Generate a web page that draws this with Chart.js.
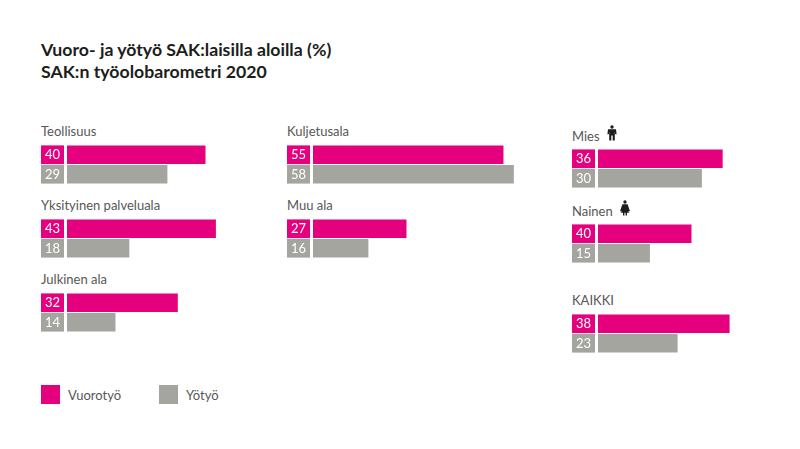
<!DOCTYPE html>
<html lang="fi">
<head>
<meta charset="utf-8">
<title>Vuoro- ja yötyö</title>
<script src="https://cdn.jsdelivr.net/npm/chart.js@4"></script>
<style>
  html, body { margin: 0; padding: 0; background: #fff; }
  #page { position: relative; width: 800px; height: 449px; overflow: hidden; font-family: Lato, sans-serif; }
  #page div, #page canvas, #page svg { position: absolute; }
  .title { left: 41px; font-size: 17.7px; font-weight: 700; color: #1d1d1b; white-space: nowrap; line-height: 24px; }
  .label { font-size: 13px; color: #575756; white-space: nowrap; line-height: 16px; }
  .swatch { width: 19px; height: 19px; }
</style>
</head>
<body>
<div id="page"></div>
<script>
const categories = ["Teollisuus", "Yksityinen palveluala", "Julkinen ala", "Kuljetusala", "Muu ala", "Mies", "Nainen", "KAIKKI"];
const vuorotyo = [40, 43, 32, 55, 27, 36, 27, 38]; // Nainen: palkki piirretty n. 27 pituiseksi vaikka luku on 40
const yotyo = [29, 18, 14, 58, 16, 30, 15, 23];
const vuorotyoLabels = ["40", "43", "32", "55", "27", "36", "40", "38"];
const yotyoLabels = ["29", "18", "14", "58", "16", "30", "15", "23"];
const seriesNames = ["Vuorotyö", "Yötyö"];

const PINK = "#e5007d";
const GRAY = "#a5a59f";
const page = document.getElementById("page");

// paneelien paikat: vasen reuna, palkkien yläreuna, otsikon yläreuna
const panelX = [41, 41, 41, 287, 287, 572, 572, 572];
const panelY = [145, 219, 293, 145, 219, 148.5, 223.5, 314];
const labelY = [123, 197, 271, 123, 197, 128, 203, 292];

function addText(cls, text, x, y) {
  const el = document.createElement("div");
  el.className = cls;
  el.textContent = text;
  if (x !== null) el.style.left = x + "px";
  el.style.top = y + "px";
  page.appendChild(el);
  return el;
}

addText("title", "Vuoro- ja yötyö SAK:laisilla aloilla (%)", null, 38);
addText("title", "SAK:n työolobarometri 2020", null, 60);

// numerolaatikot palkkien vasemmalle puolelle
const valueBoxes = {
  id: "valueBoxes",
  afterDatasetsDraw(chart, args, opts) {
    const ctx = chart.ctx;
    ctx.save();
    chart.data.datasets.forEach((ds, i) => {
      const bar = chart.getDatasetMeta(i).data[0];
      const h = bar.height;
      const top = bar.y - h / 2;
      ctx.fillStyle = ds.backgroundColor;
      ctx.fillRect(0, top, 23, h);
      ctx.fillStyle = "#fff";
      ctx.font = "13px Lato";
      ctx.textAlign = "center";
      ctx.textBaseline = "middle";
      ctx.fillText(opts.labels[i], 11.5, bar.y + 0.5);
    });
    ctx.restore();
  },
};

categories.forEach((name, i) => {
  addText("label", name, panelX[i], labelY[i]);

  const canvas = document.createElement("canvas");
  canvas.width = 240;
  canvas.height = 39;
  canvas.style.left = panelX[i] + "px";
  canvas.style.top = panelY[i] + "px";
  page.appendChild(canvas);

  new Chart(canvas, {
    type: "bar",
    data: {
      labels: [name],
      datasets: [
        { label: seriesNames[0], data: [vuorotyo[i]], backgroundColor: PINK },
        { label: seriesNames[1], data: [yotyo[i]], backgroundColor: GRAY },
      ],
    },
    options: {
      indexAxis: "y",
      responsive: false,
      animation: false,
      devicePixelRatio: 1,
      layout: { padding: { left: 26, right: 0, top: 0, bottom: 0 } },
      datasets: { bar: { categoryPercentage: 1, barPercentage: 0.96 } },
      scales: {
        x: { display: false, min: 0, max: 61.8 },
        y: { display: false },
      },
      plugins: {
        legend: { display: false },
        tooltip: { enabled: false },
        valueBoxes: { labels: [vuorotyoLabels[i], yotyoLabels[i]] },
      },
    },
    plugins: [valueBoxes],
  });
});

// selite
[[41, PINK, 68], [159, GRAY, 186]].forEach(([x, color, textX], i) => {
  const box = document.createElement("div");
  box.className = "swatch";
  box.style.left = x + "px";
  box.style.top = "385px";
  box.style.background = color;
  page.appendChild(box);
  addText("label", seriesNames[i], textX, 387);
});

// ihmishahmot
function addIcon(x, y, path) {
  const ns = "http://www.w3.org/2000/svg";
  const svg = document.createElementNS(ns, "svg");
  svg.setAttribute("width", "12");
  svg.setAttribute("height", "16");
  svg.setAttribute("viewBox", "0 0 12 16");
  svg.style.left = x + "px";
  svg.style.top = y + "px";
  const p = document.createElementNS(ns, "path");
  p.setAttribute("d", path);
  p.setAttribute("fill", "#1d1d1b");
  svg.appendChild(p);
  page.appendChild(svg);
}
const HEAD = "M6 0.3a1.7 1.7 0 1 1 0 3.4a1.7 1.7 0 1 1 0-3.4z";
addIcon(606, 125, HEAD + "M2 4.3h8l0.6 5h-1.4l-0.4-2.6v8.8h-2.1v-5h-1.4v5h-2.1v-8.8l-0.4 2.6h-1.4z");
addIcon(619, 200, HEAD + "M3.4 4.3h5.2l2.4 7h-1.8l1 1.5h-2.2v2.7h-1.4v-2.7h-1.2v2.7h-1.4v-2.7h-2.2l1-1.5h-1.8z");
</script>
</body>
</html>
